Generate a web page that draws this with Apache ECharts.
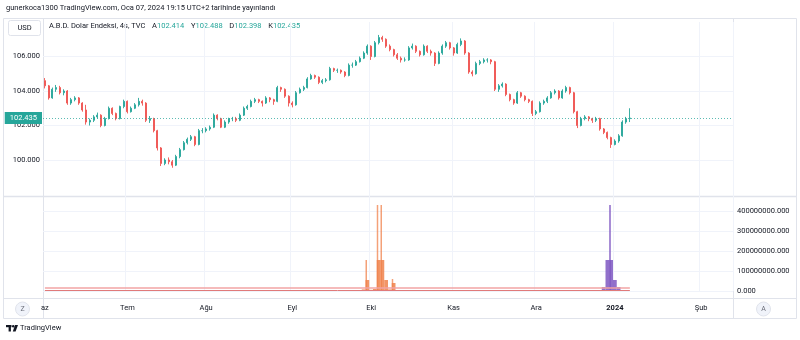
<!DOCTYPE html>
<html><head><meta charset="utf-8">
<script src="https://cdn.jsdelivr.net/npm/echarts@6/dist/echarts.min.js"></script>
<style>html,body{margin:0;padding:0;background:#fff}#c{width:800px;height:340px}</style>
</head><body><div id="c"></div>
<script>
// ---- data ----
const startDate = '2023-06-01';
const sessionCount = 184;               // trading-day slots on the time axis (data + empty future)
const monthLabels = ['az','Tem','Ağu','Eyl','Eki','Kas','Ara','2024','Şub'];
const lastPrice = 102.435;
const legendKeys = ['A','Y','D','K'];
const legendNums = ['102.414','102.488','102.398','102.435'];
// daily candles: [open, close, low, high]
const ohlc = [
[104.60,104.30,104.15,104.75],[104.30,103.60,103.50,104.35],[103.60,104.10,103.55,104.20],[104.10,104.20,103.95,104.35],
[104.20,103.90,103.80,104.30],[103.90,104.00,103.75,104.10],[104.00,103.30,103.20,104.05],[103.30,103.50,103.20,103.60],
[103.50,103.60,103.40,103.70],[103.60,103.30,103.20,103.65],[103.30,102.90,102.80,103.35],[102.90,102.20,102.05,103.20],
[102.20,102.30,102.00,102.40],[102.30,102.50,102.20,102.60],[102.50,102.60,102.40,102.75],[102.60,102.00,101.90,102.65],
[102.00,102.40,101.95,102.50],[102.40,103.00,102.35,103.10],[103.00,102.70,102.60,103.05],[102.70,102.40,102.30,102.75],
[102.40,103.10,102.35,103.15],[103.10,103.40,103.00,103.50],[103.40,102.80,102.70,103.45],[102.80,103.00,102.75,103.10],
[103.00,103.20,102.95,103.30],[103.20,103.40,103.10,103.60],[103.40,103.30,103.15,103.50],[103.30,102.30,102.20,103.35],
[102.30,102.40,102.15,102.55],[102.40,101.70,101.60,102.45],[101.70,100.70,100.55,101.75],[100.70,99.80,99.65,100.75],
[99.80,100.00,99.70,100.10],[100.00,99.90,99.75,100.15],[99.90,99.70,99.55,100.00],[99.70,100.20,99.65,100.30],
[100.20,100.60,100.10,100.70],[100.60,101.00,100.55,101.10],[101.00,101.20,100.90,101.30],[101.20,101.35,101.10,101.45],
[101.35,100.90,100.80,101.40],[100.90,101.70,100.85,101.80],[101.70,101.70,101.55,101.85],[101.70,101.80,101.60,101.90],
[101.80,101.90,101.70,102.00],[101.90,102.60,101.85,102.70],[102.60,102.40,102.30,102.65],[102.40,101.90,101.85,102.45],
[101.90,102.20,101.85,102.30],[102.20,102.40,102.10,102.45],[102.40,102.40,102.25,102.50],[102.40,102.30,102.20,102.50],
[102.30,102.60,102.25,102.70],[102.60,103.00,102.55,103.10],[103.00,103.10,102.90,103.20],[103.10,103.40,103.05,103.50],
[103.40,103.50,103.30,103.60],[103.50,103.40,103.30,103.55],[103.40,103.30,103.10,103.45],[103.30,103.60,103.25,103.70],
[103.60,103.50,103.35,103.65],[103.50,103.40,103.20,103.55],[103.40,104.20,103.35,104.30],[104.20,104.10,103.95,104.25],
[104.10,103.70,103.60,104.15],[103.70,103.30,103.10,103.75],[103.30,103.20,103.05,103.40],[103.20,103.90,103.15,104.00],
[103.90,104.10,103.85,104.20],[104.10,104.20,104.00,104.30],[104.20,104.70,104.15,104.80],[104.70,104.90,104.65,105.00],
[104.90,104.80,104.70,104.95],[104.80,104.50,104.40,104.85],[104.50,104.60,104.40,104.70],[104.60,104.65,104.50,104.75],
[104.65,105.30,104.60,105.40],[105.30,105.20,105.10,105.35],[105.20,105.20,105.05,105.30],[105.20,105.10,105.00,105.25],
[105.10,104.90,104.80,105.15],[104.90,105.50,104.85,105.60],[105.50,105.50,105.35,105.65],[105.50,105.70,105.45,105.80],
[105.70,105.90,105.65,106.00],[105.90,106.20,105.85,106.30],[106.20,106.60,106.10,106.70],[106.60,106.00,105.80,106.65],
[106.00,106.80,105.95,106.90],[106.80,107.10,106.70,107.25],[107.10,107.00,106.85,107.20],[107.00,106.60,106.50,107.05],
[106.60,106.40,106.30,106.70],[106.40,106.10,106.00,106.45],[106.10,105.90,105.80,106.20],[105.90,105.80,105.65,106.00],
[105.80,105.80,105.70,105.95],[105.80,106.50,105.75,106.60],[106.50,106.60,106.40,106.75],[106.60,106.30,106.20,106.65],
[106.30,106.10,106.00,106.35],[106.10,106.60,106.05,106.70],[106.60,106.30,106.20,106.65],[106.30,106.20,106.05,106.40],
[106.20,105.60,105.45,106.25],[105.60,106.20,105.55,106.30],[106.20,106.60,106.10,106.70],[106.60,106.80,106.50,106.90],
[106.80,106.50,106.40,106.85],[106.50,106.20,106.05,106.55],[106.20,106.70,106.15,106.80],[106.70,106.90,106.60,107.05],
[106.90,106.20,106.10,106.95],[106.20,105.10,105.00,106.25],[105.10,105.00,104.85,105.20],[105.00,105.60,104.95,105.70],
[105.60,105.70,105.50,105.80],[105.70,105.80,105.60,105.90],[105.80,105.80,105.65,105.90],[105.80,105.70,105.55,105.85],
[105.70,104.10,104.00,105.75],[104.10,104.30,103.95,104.40],[104.30,104.40,104.20,104.50],[104.40,103.80,103.70,104.45],
[103.80,103.50,103.40,103.85],[103.50,103.30,103.20,103.55],[103.30,103.90,103.25,104.00],[103.90,103.70,103.60,103.95],
[103.70,103.50,103.40,103.75],[103.50,103.40,103.30,103.55],[103.40,102.70,102.55,103.45],[102.70,102.80,102.60,102.90],
[102.80,103.30,102.75,103.40],[103.30,103.40,103.20,103.50],[103.40,103.60,103.30,103.70],[103.60,103.90,103.55,104.00],
[103.90,104.00,103.80,104.10],[104.00,103.60,103.50,104.05],[103.60,104.00,103.55,104.10],[104.00,104.20,103.90,104.30],
[104.20,103.90,103.80,104.25],[103.90,102.80,102.70,103.95],[102.80,102.00,101.85,102.85],[102.00,102.40,101.95,102.50],
[102.40,102.50,102.30,102.60],[102.50,102.40,102.25,102.55],[102.40,102.30,102.15,102.45],[102.30,102.40,102.20,102.50],
[102.40,101.80,101.70,102.45],[101.80,101.60,101.50,101.85],[101.60,101.30,101.20,101.65],[101.30,100.90,100.70,101.35],
[100.90,101.10,100.85,101.20],[101.10,101.40,101.00,101.50],[101.40,102.20,101.35,102.30],[102.20,102.40,102.10,102.50],
[102.40,102.435,102.20,103.00]
];
// lower pane: [session index, value]
const orangeWide   = [[85,8e6],[86,55e6],[87,6e6],[88,10e6],[89,155e6],[90,155e6],[91,55e6],[92,8e6],[93,40e6],[98,4e6]];
const orangeSpikes = [[86,155e6],[89,430e6],[90,430e6],[93,60e6]];
const purpleWide   = [[142,3e6],[148,5e6],[149,20e6],[150,155e6],[151,155e6],[152,55e6],[153,20e6],[154,5e6],[155,3e6]];
const purpleSpikes = [[151,430e6]];
const levelLines   = [16e6, 1.5e6];

// ---- build ----
const dates = [];
{ let d = new Date(startDate + 'T00:00:00Z');
  while (dates.length < sessionCount) {
    const wd = d.getUTCDay();
    if (wd !== 0 && wd !== 6) dates.push(d.toISOString().slice(0,10));
    d.setUTCDate(d.getUTCDate() + 1);
  } }
const monthIdx = s => (parseInt(s.slice(0,4)) - 2023) * 12 + parseInt(s.slice(5,7)) - 6;
const isMonthStart = dates.map((s,i) => i === 0 || s.slice(5,7) !== dates[i-1].slice(5,7));
const FONT = 'Roboto, "Liberation Sans", Arial, sans-serif';
const up = '#26a69a', down = '#ef5350';

const chart = echarts.init(document.getElementById('c'), null, {renderer:'canvas'});
const lastIdx = ohlc.length - 1;

const legendRich = '{t|A.B.D. Dolar Endeksi, 4s, TVC}' + legendKeys.map((k,i)=>'  {t|'+k+'}{v|'+legendNums[i]+'}').join('');

chart.setOption({
  animation:false,
  textStyle:{fontFamily:FONT},
  grid:[
    {left:43, right:67, top:22, height:172.5},
    {left:43, right:67, top:191, height:100}
  ],
  xAxis:[
    {type:'category', gridIndex:0, data:dates, boundaryGap:true,
     axisLine:{show:false}, axisTick:{show:false}, axisLabel:{show:false},
     splitLine:{show:true, interval:(i)=>isMonthStart[i] && i>0, lineStyle:{color:'#f0f3fa'}}},
    {type:'category', gridIndex:1, data:dates, boundaryGap:true,
     axisLine:{show:false}, axisTick:{show:false},
     axisLabel:{show:true, interval:(i)=>isMonthStart[i], margin:13, fontSize:7.5, color:'#131722', fontFamily:FONT,
       formatter:(v)=>{const m=monthIdx(v); const t=monthLabels[m]; return m===7?'{b|'+t+'}':t;},
       rich:{b:{fontWeight:'bold', fontSize:7.5, color:'#131722', fontFamily:FONT}}},
     splitLine:{show:true, interval:(i)=>isMonthStart[i] && i>0, lineStyle:{color:'#f0f3fa'}}}
  ],
  yAxis:[
    {type:'value', gridIndex:0, position:'left', min:98, max:108, interval:2, scale:false,
     axisLine:{show:false}, axisTick:{show:false},
     axisLabel:{fontSize:7.5, color:'#131722', margin:3, formatter:v=>v.toFixed(3), showMinLabel:false, showMaxLabel:false},
     splitLine:{show:true, showMinLine:false, showMaxLine:false, lineStyle:{color:'#f0f3fa'}}},
    {type:'value', gridIndex:1, position:'right', min:0, max:500e6, interval:100e6,
     axisLine:{show:false}, axisTick:{show:false},
     axisLabel:{fontSize:7.5, color:'#131722', margin:4, formatter:v=>v.toFixed(3), showMaxLabel:false},
     splitLine:{show:true, showMaxLine:false, lineStyle:{color:'#f0f3fa'}}}
  ],
  series:[
    {type:'candlestick', xAxisIndex:0, yAxisIndex:0, data:ohlc, barWidth:1.6,
     itemStyle:{color:up, color0:down, borderColor:up, borderColor0:down, borderWidth:0.9},
     markLine:{silent:true, symbol:'none', animation:false,
       lineStyle:{color:'rgba(38,166,154,0.75)', type:[1,2], width:1},
       label:{position:'start', formatter:lastPrice.toFixed(3), color:'#fff', backgroundColor:up,
              fontSize:7.5, padding:[2,5,2,5], distance:1, fontFamily:FONT},
       data:[{yAxis:lastPrice}]}},
    {type:'bar', xAxisIndex:1, yAxisIndex:1, data:orangeSpikes, barWidth:1.5, barGap:'-100%',
     itemStyle:{color:'rgba(240,130,75,0.75)'}},
    {type:'bar', xAxisIndex:1, yAxisIndex:1, data:purpleSpikes, barWidth:1.5, barGap:'-100%',
     itemStyle:{color:'rgba(126,87,194,0.9)'}},
    {type:'bar', xAxisIndex:1, yAxisIndex:1, data:orangeWide, barWidth:'100%', barGap:'-100%',
     itemStyle:{color:'rgba(240,130,75,0.85)'}},
    {type:'bar', xAxisIndex:1, yAxisIndex:1, data:purpleWide, barWidth:'100%', barGap:'-100%',
     itemStyle:{color:'rgba(126,87,194,0.85)'},
     markLine:{silent:true, symbol:'none', animation:false, label:{show:false},
       data:[
         [{coord:[0,levelLines[0]], lineStyle:{color:'#f2a5a5', width:1.5, type:'solid'}},{coord:[lastIdx,levelLines[0]]}],
         [{coord:[0,levelLines[1]], lineStyle:{color:'#e07a7a', width:1, type:'solid'}},{coord:[lastIdx,levelLines[1]]}]
       ]}}
  ],
  graphic:[
    {type:'text', left:6, top:4, style:{text:'gunerkoca1300 TradingView.com, Oca 07, 2024 19:15 UTC+2 tarihinde yayınlandı', font:'7.5px '+FONT, fill:'#131722'}},
    {type:'rect', shape:{x:3.5,y:18.5,width:793,height:300}, style:{fill:'none', stroke:'#e0e3eb', lineWidth:1}, z:-1},
    {type:'line', shape:{x1:43.5,y1:18.5,x2:43.5,y2:318.5}, style:{stroke:'#e0e3eb', lineWidth:1}, z:-1},
    {type:'line', shape:{x1:733.5,y1:18.5,x2:733.5,y2:318.5}, style:{stroke:'#e0e3eb', lineWidth:1}, z:-1},
    {type:'line', shape:{x1:3.5,y1:196.5,x2:796.5,y2:196.5}, style:{stroke:'#e0e3eb', lineWidth:1.5}, z:-1},
    {type:'line', shape:{x1:3.5,y1:298.5,x2:796.5,y2:298.5}, style:{stroke:'#e0e3eb', lineWidth:1}, z:-1},
    {type:'rect', shape:{x:8.5,y:20.5,width:32,height:15,r:2}, style:{fill:'#fff', stroke:'#e0e3eb', lineWidth:1}},
    {type:'text', x:24.5, y:28.5, style:{text:'USD', font:'7.5px '+FONT, fill:'#131722', align:'center', verticalAlign:'middle'}},
    {type:'text', x:49, y:26, style:{text:legendRich, verticalAlign:'middle',
      rich:{t:{fontSize:7.5, fill:'#131722', fontFamily:FONT}, v:{fontSize:7.5, fill:up, fontFamily:FONT}}}},
    {type:'circle', shape:{cx:22.5,cy:309,r:7}, style:{fill:'#f0f3fa', stroke:'#e0e3eb'}},
    {type:'text', x:22.5, y:309, style:{text:'Z', font:'7px '+FONT, fill:'#6a6d78', align:'center', verticalAlign:'middle'}},
    {type:'circle', shape:{cx:763.5,cy:309,r:7}, style:{fill:'#f0f3fa', stroke:'#e0e3eb'}},
    {type:'text', x:763.5, y:309, style:{text:'A', font:'7px '+FONT, fill:'#6a6d78', align:'center', verticalAlign:'middle'}},
    {type:'rect', shape:{x:6,y:325,width:5.5,height:2.2}, style:{fill:'#131722'}},
    {type:'rect', shape:{x:8.6,y:325,width:2.3,height:6.5}, style:{fill:'#131722'}},
    {type:'circle', shape:{cx:13.2,cy:326.2,r:1.2}, style:{fill:'#131722'}},
    {type:'polygon', shape:{points:[[15,325],[18,325],[15.6,331.5],[12.8,331.5]]}, style:{fill:'#131722'}},
    {type:'text', x:20, y:328.5, style:{text:'TradingView', font:'7.5px '+FONT, fill:'#131722', verticalAlign:'middle'}}
  ]
});
</script></body></html>
